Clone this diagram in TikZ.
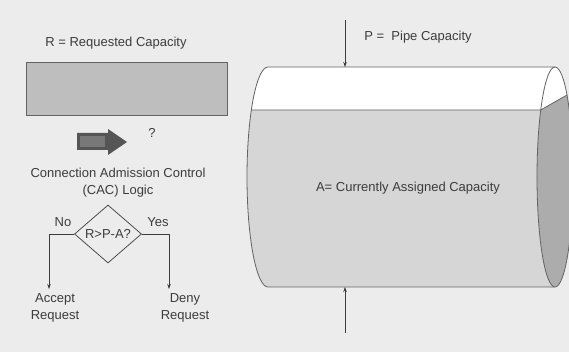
\documentclass[tikz,border=0pt]{standalone}
\usepackage{fontspec}
\setmainfont{Liberation Sans}
\usetikzlibrary{arrows.meta, positioning, shapes.geometric}
\definecolor{paper}{RGB}{236,236,236}
\definecolor{ink}{RGB}{60,60,60}
\definecolor{reqgray}{RGB}{190,190,190}
\definecolor{liquid}{RGB}{214,214,214}
\definecolor{endface}{RGB}{172,172,172}
\definecolor{arrowdark}{RGB}{85,85,85}
\definecolor{arrowmid}{RGB}{120,120,120}

\begin{document}
\begin{tikzpicture}[
    x=1pt, y=-1pt,
    label/.style={font=\fontsize{13}{17}\selectfont, text=ink, inner sep=1pt, align=center},
    decision/.style={draw=ink, diamond, aspect=1.15, minimum width=67pt, minimum height=58pt, inner sep=0pt, line width=0.7pt, font=\fontsize{13}{17}\selectfont, text=ink},
    pipeline/.style={draw=ink!80, line width=0.8pt},
    flow/.style={draw=ink, line width=0.6pt, -{Stealth[length=5pt, width=3.5pt]}},
]
    \useasboundingbox (0,0) rectangle (569,352);
    \fill[paper] (0,0) rectangle (569,352);

    % left side: request and CAC logic
    \node[label] (reqlabel) at (116,43) {R = Requested Capacity};
    \node[draw=ink!80, fill=reqgray, line width=0.8pt, minimum width=201pt, minimum height=53pt, inner sep=0pt] (req) at (126.5,88.5) {};
    \fill[arrowdark] (77,133) -- (108,133) -- (108,129) -- (127,142) -- (108,155) -- (108,150) -- (77,150) -- cycle;
    \fill[arrowmid] (80,136) -- (105,136) -- (105,147) -- (80,147) -- cycle;
    \node[label] (query) at (152,133) {?};
    \node[label] (cac) at (118,182.5) {Connection Admission Control\\(CAC) Logic};
    \node[decision] (test) at (108,234) {R>P-A?};
    \node[label] (accept) at (55,307.5) {Accept\\Request};
    \node[label] (deny) at (185,307.5) {Deny\\Request};
    \coordinate (acceptin) at (49,289);
    \coordinate (denyin) at (169,289);
    \draw[flow] (test.west) -| (acceptin);
    \draw[flow] (test.east) -| (denyin);
    \node[label] (no) at (63,222) {No};
    \node[label] (yes) at (158,222) {Yes};

    % right side: the pipe
    \fill[white] (268,67) arc[start angle=270, end angle=90, x radius=21, y radius=110] -- (555,287) -- (555,67) -- cycle;
    \fill[liquid] (251.3,110) arc[start angle=217.5, end angle=90, x radius=21, y radius=110] -- (555,287) -- (540.7,110) -- cycle;
    \fill[white] (555,177) ellipse[x radius=18, y radius=110];
    \fill[endface] (540.7,110) arc[start angle=217.5, end angle=-48.2, x radius=18, y radius=110] -- cycle;
    \draw[pipeline] (555,67) -- (268,67) arc[start angle=270, end angle=90, x radius=21, y radius=110] -- (555,287);
    \draw[pipeline] (555,177) ellipse[x radius=18, y radius=110];
    \draw[pipeline] (251.3,110) -- (540.7,110) -- (567,95);
    \node[label] (pipelabel) at (418,37) {P =\ \ Pipe Capacity};
    \node[label] (assigned) at (408,188) {A= Currently Assigned Capacity};
    \coordinate (pipetop) at (345,67);
    \coordinate (pipebot) at (345,287);
    \coordinate (pipetopin) at (345,20);
    \coordinate (pipebotin) at (345,333);
    \draw[flow] (pipetopin) -- (pipetop);
    \draw[flow] (pipebotin) -- (pipebot);
\end{tikzpicture}
\end{document}
